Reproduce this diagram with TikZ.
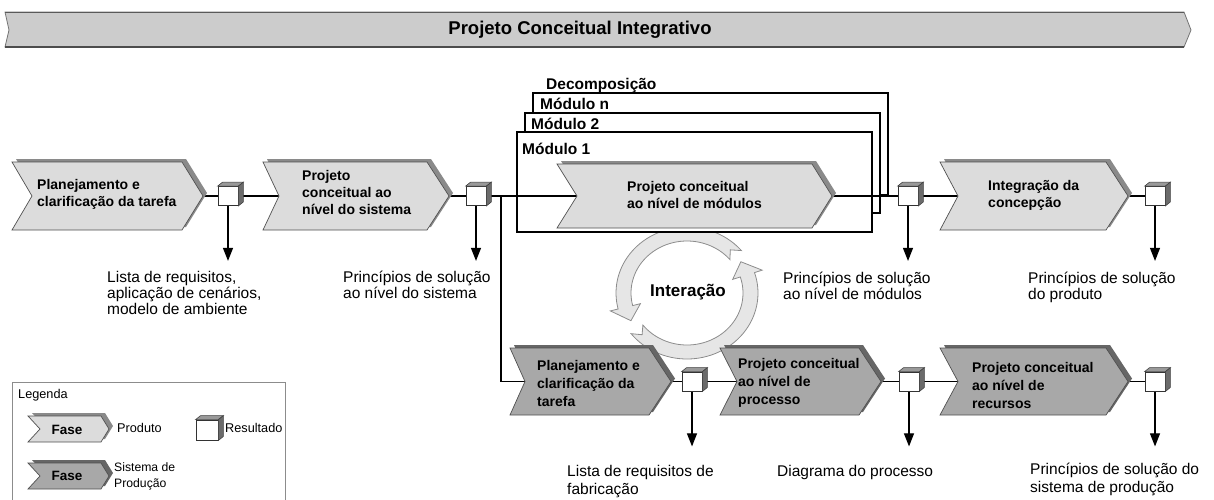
\documentclass[tikz,border=0pt]{standalone}
\usepackage{fontspec}
\setmainfont{Liberation Sans}
\usetikzlibrary{arrows.meta,calc}
\pgfdeclarelayer{back}
\pgfdeclarelayer{lines}
\pgfsetlayers{back,lines,main}

\definecolor{lightfase}{HTML}{DCDCDC}
\definecolor{darkfase}{HTML}{A8A8A8}
\definecolor{lightbev}{HTML}{8A8A8A}
\definecolor{darkbev}{HTML}{666666}
\definecolor{edgegray}{HTML}{505050}
\definecolor{ringfill}{HTML}{E6E6E6}
\definecolor{ringedge}{HTML}{8C8C8C}

% #1 name, #2 x0, #3 notch, #4 x1, #5 x2, #6 yt, #7 yb, #8 fill, #9 bevel
\newcommand{\fase}[9]{%
  \fill[#9] ({#2+4},{#6-3}) -- ({#4+4},{#6-3}) -- ({#5+4},{(#6+#7)/2-3}) -- ({#4+4},{#7-3}) -- ({#2+4},{#7-3}) -- ({#2+#3+4},{(#6+#7)/2-3}) -- cycle;
  \draw[draw=edgegray, line width=0.7pt, fill=#8] ({#2},{#6}) -- ({#4},{#6}) -- ({#5},{(#6+#7)/2}) -- ({#4},{#7}) -- ({#2},{#7}) -- ({#2+#3},{(#6+#7)/2}) -- cycle;
  \coordinate (#1-in) at ({#2+#3},{(#6+#7)/2});
  \coordinate (#1-tip) at ({#5},{(#6+#7)/2});
}
\newcommand{\cubefaces}[2]{% node, depth
  \filldraw[draw=black!75, fill=black!40, line width=0.6pt] (#1.north west) -- ++(#2,-#2+1) -- ([shift={(#2,-#2+1)}]#1.north east) -- (#1.north east) -- cycle;
  \filldraw[draw=black!75, fill=black!58, line width=0.6pt] (#1.north east) -- ++(#2,-#2+1) -- ([shift={(#2,-#2+1)}]#1.south east) -- (#1.south east) -- cycle;
}

\tikzset{
  fasetext/.style={anchor=west, align=left, inner sep=0pt, font=\fontsize{14}{17}\selectfont\bfseries},
  fasetextb/.style={anchor=west, align=left, inner sep=0pt, font=\fontsize{14}{18}\selectfont\bfseries},
  lab/.style={anchor=north west, align=left, inner sep=0pt, font=\fontsize{15.5}{16}\selectfont},
  labb/.style={anchor=north west, align=left, inner sep=0pt, font=\fontsize{15.5}{18}\selectfont},
  modlab/.style={anchor=west, inner sep=0pt, font=\fontsize{15.5}{18}\selectfont\bfseries},
  conn/.style={line width=1.1pt, black},
  arr/.style={line width=1.1pt, black, -{Triangle[length=13pt,width=10pt]}},
  cube/.style={draw=black!80, fill=white, minimum width=20pt, minimum height=19pt, inner sep=0pt, line width=0.8pt},
  modbox/.style={draw=black, fill=white, line width=1.6pt},
  ringsty/.style={fill=ringfill, draw=ringedge, line width=0.8pt},
  leglab/.style={anchor=west, inner sep=0pt, font=\fontsize{12.7}{16}\selectfont}
}

\begin{document}
\begin{tikzpicture}[x=1pt, y=-1pt]
\useasboundingbox (0,0) rectangle (1214,499);

% ---------- banner ----------
\filldraw[fill=black!20, draw=black!55, line width=0.8pt] (5,12) -- (1184,12) -- (1191,30) -- (1184,47) -- (5,47) -- (9,30) -- cycle;
\draw[black!65, line width=1.6pt] (5,12.5) -- (1184,12.5);
\draw[black!70, line width=2pt] (5,46.5) -- (1184,46.5);
\node[font=\fontsize{18.5}{21}\selectfont\bfseries] (title) at (580,30) {Projeto Conceitual Integrativo};

% ---------- ring and module boxes ----------
\begin{pgfonlayer}{back}
  \filldraw[ringsty] plot[domain=40:194, samples=50] ({687+71*cos(\x)},{293-66*sin(\x)})
    -- ({687+79*cos(194)},{293-74*sin(194)})
    -- ({687+63.5*cos(208)},{293-59*sin(208)})
    -- ({687+48*cos(194)},{293-44*sin(194)})
    -- plot[domain=194:40, samples=50] ({687+56*cos(\x)},{293-52*sin(\x)})
    -- ({687+63.5*cos(47)},{293-59*sin(47)}) -- cycle;
  \filldraw[ringsty] plot[domain=218:378, samples=50] ({687+71*cos(\x)},{293-66*sin(\x)})
    -- ({687+79*cos(378)},{293-74*sin(378)})
    -- ({687+63.5*cos(392)},{293-59*sin(392)})
    -- ({687+48*cos(378)},{293-44*sin(378)})
    -- plot[domain=378:218, samples=50] ({687+56*cos(\x)},{293-52*sin(\x)})
    -- ({687+63.5*cos(225)},{293-59*sin(225)}) -- cycle;
  \draw[modbox] (533,93) rectangle (888,195);
  \draw[modbox] (525,113) rectangle (880,213);
  \draw[modbox] (517,132) rectangle (872,232);
\end{pgfonlayer}
\node[font=\fontsize{17}{20}\selectfont\bfseries] (inter) at (688,292) {Interação};

\node[modlab] (decomp) at (546,85) {Decomposição};
\node[modlab] (modn) at (540,104) {Módulo n};
\node[modlab] (mod2) at (531,124) {Módulo 2};
\node[modlab] (mod1) at (522,149) {Módulo 1};

% ---------- phases ----------
\fase{A}{12}{20}{182}{203}{162}{230}{lightfase}{lightbev}
\fase{B}{263}{16}{427}{449}{162}{230}{lightfase}{lightbev}
\fase{M}{557}{20}{812}{832}{164}{228}{lightfase}{lightbev}
\fase{D}{940}{18}{1106}{1128}{162}{230}{lightfase}{lightbev}
\fase{E}{510}{15}{649}{671}{348}{415}{darkfase}{darkbev}
\fase{F}{720}{17}{859}{881}{348}{415}{darkfase}{darkbev}
\fase{G}{940}{18}{1106}{1128}{348}{415}{darkfase}{darkbev}

\node[fasetext] (tA) at (37,194) {Planejamento e\\clarificação da tarefa};
\node[fasetext] (tB) at (302,192) {Projeto\\conceitual ao\\nível do sistema};
\node[fasetext] (tM) at (627,195) {Projeto conceitual\\ao nível de módulos};
\node[fasetext] (tD) at (988,195) {Integração da\\concepção};
\node[fasetextb] (tE) at (537,383) {Planejamento e\\clarificação da\\tarefa};
\node[fasetextb] (tF) at (738,383) {Projeto conceitual\\ao nível de\\processo};
\node[fasetextb] (tG) at (972,385) {Projeto conceitual\\ao nível de\\recursos};

% ---------- results ----------
\node[cube] (c1) at (228,196) {};
\node[cube] (c2) at (476,196) {};
\node[cube] (c3) at (908,196) {};
\node[cube] (c4) at (1155,196) {};
\node[cube] (c5) at (692,381.5) {};
\node[cube] (c6) at (909,381.5) {};
\node[cube] (c7) at (1155,381.5) {};
\foreach \c in {c1,c2,c3,c4,c5,c6,c7} {\cubefaces{\c}{5}}

\coordinate (j1) at (501,196);
\foreach \c in {c1,c2,c3,c4,c5,c6,c7} {\coordinate (\c-end) at ($(\c.south)+(0,55)$);}

\begin{pgfonlayer}{lines}
  \draw[conn] (A-tip) -- (c1.west);
  \draw[conn] (c1.east) -- (B-in);
  \draw[conn] (B-tip) -- (c2.west);
  \draw[conn] (c2.east) -- (M-in);
  \draw[conn] (j1) |- (E-in);
  \draw[conn] (M-tip) -- (c3.west);
  \draw[conn] (c3.east) -- (D-in);
  \draw[conn] (D-tip) -- (c4.west);
  \draw[conn] (E-tip) -- (c5.west);
  \draw[conn] (c5.east) -- (F-in);
  \draw[conn] (F-tip) -- (c6.west);
  \draw[conn] (c6.east) -- (G-in);
  \draw[conn] (G-tip) -- (c7.west);
  \foreach \c in {c1,c2,c3,c4,c5,c6,c7} {\draw[arr] (\c.south) -- (\c-end);}
\end{pgfonlayer}

% ---------- result labels ----------
\node[lab] (l1) at (107,271) {Lista de requisitos,\\aplicação de cenários,\\modelo de ambiente};
\node[lab] (l2) at (343,271) {Princípios de solução\\ao nível do sistema};
\node[lab] (l3) at (783,272) {Princípios de solução\\ao nível de módulos};
\node[lab] (l4) at (1028,272) {Princípios de solução\\do produto};
\node[labb] (l5) at (567,465) {Lista de requisitos de\\fabricação};
\node[labb] (l6) at (777,465) {Diagrama do processo};
\node[labb] (l7) at (1030,463) {Princípios de solução do\\sistema de produção};

% ---------- legend ----------
\draw[draw=black!45, fill=white, line width=0.8pt] (12,382) -- (12,505) -- (285,505) -- (285,382) -- cycle;
\node[leglab] (leg) at (18,395) {Legenda};
\fase{LA}{28}{12}{101}{109}{416}{442}{lightfase}{lightbev}
\fase{LB}{28}{12}{101}{109}{463}{489}{darkfase}{darkbev}
\node[font=\fontsize{13.5}{16}\selectfont\bfseries] (f1) at (67,430) {Fase};
\node[font=\fontsize{13.5}{16}\selectfont\bfseries] (f2) at (67,476) {Fase};
\node[leglab] (prod) at (117,428) {Produto};
\node[cube, minimum width=22pt, minimum height=20pt] (lc) at (207,430) {};
\cubefaces{lc}{5}
\node[leglab] (res) at (225,428) {Resultado};
\node[leglab, align=left, font=\fontsize{12.2}{16}\selectfont] (sis) at (114,476) {Sistema de\\Produção};
\end{tikzpicture}
\end{document}
